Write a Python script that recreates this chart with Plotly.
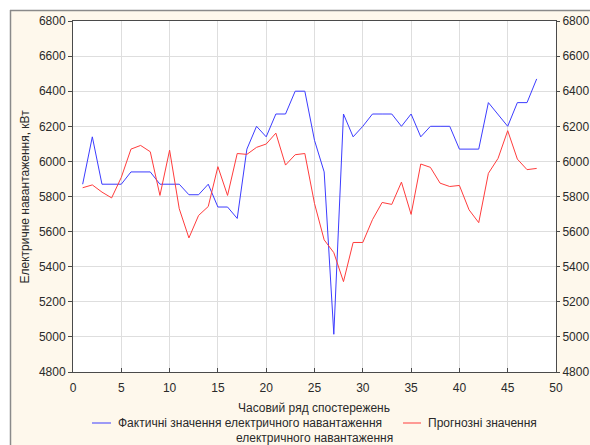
import plotly.graph_objects as go

# Observation index (hours)
hours = list(range(1, 49))

# Actual electrical load, kW
actual = [5870, 6140, 5870, 5870, 5870, 5940, 5940, 5940, 5870, 5870,
          5870, 5810, 5810, 5870, 5740, 5740, 5675, 6070, 6200, 6140,
          6270, 6270, 6400, 6400, 6120, 5940, 5015, 6270, 6140, 6200,
          6270, 6270, 6270, 6200, 6270, 6140, 6200, 6200, 6200, 6070,
          6070, 6070, 6335, 6270, 6200, 6335, 6335, 6470]

# Forecast electrical load, kW
forecast = [5850, 5866, 5825, 5792, 5909, 6070, 6091, 6055, 5806, 6064,
            5730, 5564, 5692, 5743, 5970, 5806, 6045, 6040, 6080, 6099,
            6161, 5979, 6038, 6045, 5760, 5553, 5480, 5315, 5538, 5538,
            5668, 5766, 5755, 5882, 5698, 5985, 5966, 5876, 5857, 5863,
            5724, 5651, 5932, 6017, 6175, 6013, 5953, 5960]

y_ticks = [4800, 5000, 5200, 5400, 5600, 5800, 6000, 6200, 6400, 6600, 6800]
x_ticks = [0, 5, 10, 15, 20, 25, 30, 35, 40, 45, 50]

name_actual = "Фактичні значення електричного навантаження"
name_forecast = "Прогнозні значення електричного навантаження"

BLUE = "#3c3cff"
RED = "#ff3c3c"
CREAM = "#fef8ec"
FONT = "Liberation Sans, Arial, sans-serif"
TXT = "#2a2a2a"

fig = go.Figure()
fig.add_trace(go.Scatter(x=hours, y=actual, mode="lines", name=name_actual,
                         line=dict(color=BLUE, width=1)))
# the forecast uses the right-hand axis (same scale as the left one)
fig.add_trace(go.Scatter(x=hours, y=forecast, mode="lines", name=name_forecast,
                         yaxis="y2", line=dict(color=RED, width=1)))

L, R, T, B = 73, 34, 21, 73
W, H = 590, 445
pw, ph = W - L - R, H - T - B


def px(xp):
    return (xp - L) / pw


def py(yp):
    return (H - B - yp) / ph


shapes = [
    # white margin strips outside the framed panel
    dict(type="rect", xref="paper", yref="paper", x0=px(0), x1=px(W),
         y0=py(10), y1=py(0), fillcolor="white", line_width=0, layer="above"),
    dict(type="rect", xref="paper", yref="paper", x0=px(0), x1=px(10),
         y0=py(H), y1=py(0), fillcolor="white", line_width=0, layer="above"),
    # panel border
    dict(type="line", xref="paper", yref="paper", x0=px(10), x1=px(W),
         y0=py(10.5), y1=py(10.5), line=dict(color="#8a8a8a", width=1.5)),
    dict(type="line", xref="paper", yref="paper", x0=px(10.5), x1=px(10.5),
         y0=py(10), y1=py(H), line=dict(color="#8a8a8a", width=1.5)),
    # legend keys
    dict(type="line", xref="paper", yref="paper", x0=px(92), x1=px(111),
         y0=py(423), y1=py(423), line=dict(color=BLUE, width=1)),
    dict(type="line", xref="paper", yref="paper", x0=px(403), x1=px(421),
         y0=py(423), y1=py(423), line=dict(color=RED, width=1)),
]

annotations = [
    dict(text=name_actual, xref="paper", yref="paper", x=px(116), y=py(423),
         xanchor="left", yanchor="middle", showarrow=False,
         font=dict(family=FONT, size=12, color=TXT)),
    dict(text="Прогнозні значення", xref="paper", yref="paper", x=px(426), y=py(423),
         xanchor="left", yanchor="middle", showarrow=False,
         font=dict(family=FONT, size=12, color=TXT)),
    dict(text="електричного навантаження", xref="paper", yref="paper", x=px(314), y=py(437.5),
         xanchor="center", yanchor="middle", showarrow=False,
         font=dict(family=FONT, size=12, color=TXT)),
    dict(text="Часовий ряд спостережень", xref="paper", yref="paper", x=px(314), y=py(408),
         xanchor="center", yanchor="middle", showarrow=False,
         font=dict(family=FONT, size=12, color=TXT)),
    dict(text="Електричне навантаження, кВт", xref="paper", yref="paper", x=px(24), y=0.5,
         xanchor="center", yanchor="middle", showarrow=False, textangle=-90,
         font=dict(family=FONT, size=12, color=TXT)),
]

axis_common = dict(
    showline=True, linecolor="#4a4a4a", linewidth=1,
    zeroline=False, automargin=False,
    tickfont=dict(family=FONT, size=12, color=TXT),
    tickcolor="#4a4a4a",
)

fig.update_layout(
    width=W, height=H,
    margin=dict(l=L, r=R, t=T, b=B, autoexpand=False),
    paper_bgcolor=CREAM, plot_bgcolor="white",
    showlegend=False,
    shapes=shapes, annotations=annotations,
    xaxis=dict(range=[0, 50], tickvals=x_ticks, ticks="inside", ticklen=4,
               ticklabelstandoff=5, mirror=True,
               gridcolor="#dedede", gridwidth=1, **axis_common),
    yaxis=dict(range=[4800, 6800], tickvals=y_ticks, ticks="outside", ticklen=4,
               gridcolor="#dedede", gridwidth=1, **axis_common),
    yaxis2=dict(range=[4800, 6800], tickvals=y_ticks, ticks="outside", ticklen=3,
                ticklabelstandoff=0,
                overlaying="y", side="right", anchor="x", showgrid=False,
                **axis_common),
)

fig.write_html("out.html")
